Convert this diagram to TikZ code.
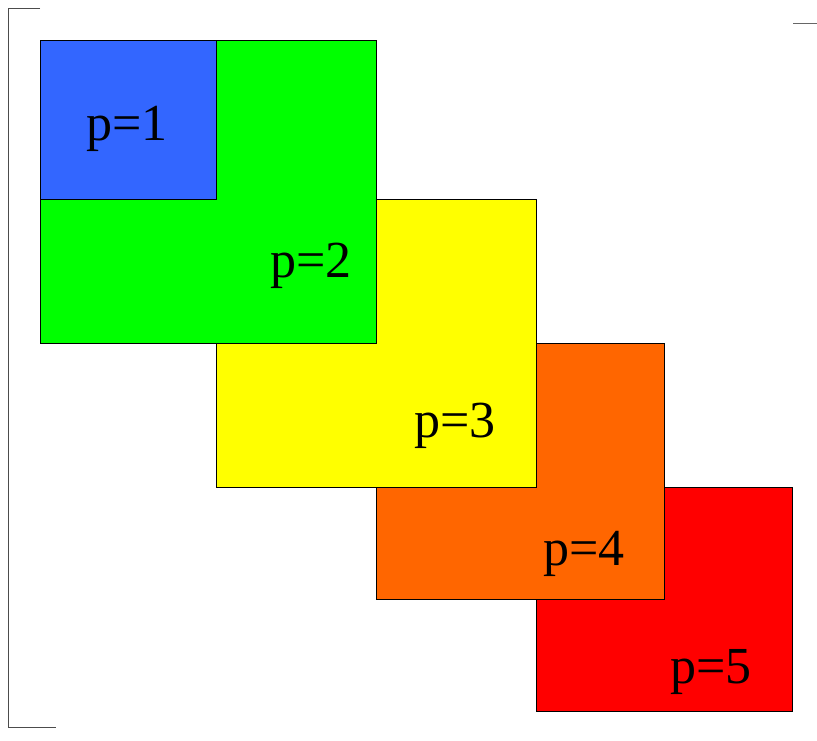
\documentclass[tikz,border=0pt]{standalone}
\usepackage{fontspec}
\setmainfont{Liberation Serif}
\definecolor{pblue}{HTML}{3366FF}
\definecolor{pgreen}{HTML}{00FF00}
\definecolor{pyellow}{HTML}{FFFF00}
\definecolor{porange}{HTML}{FF6600}
\definecolor{pred}{HTML}{FF0000}
\begin{document}
\begin{tikzpicture}[x=1pt,y=-1pt,line width=0.8pt,
  block/.style={draw=black,line width=0.7pt},
  plabel/.style={anchor=base,inner sep=0pt,font=\fontsize{52}{60}\selectfont}]
\useasboundingbox (0,0) rectangle (817,740);
% ---------- bracket ----------
\draw[line width=1pt,black!70] (40,8) -- (8,8) -- (8,727) -- (56,727);
\draw[line width=1pt,black!60] (793,23) -- (817,23);
% ---------- blocks, last one first ----------
\draw[block,fill=pred] (536,487) rectangle (792,711);
\draw[block,fill=porange] (376,343) rectangle (664,599);
\draw[block,fill=pyellow] (216,199) rectangle (536,487);
\draw[block,fill=pgreen] (40,40) rectangle (376,343);
\draw[block,fill=pblue] (40,40) rectangle (216,199);
% ---------- labels ----------
\node[plabel] (p1) at (127,140) {p=1};
\node[plabel] (p2) at (311,277) {p=2};
\node[plabel] (p3) at (455,437) {p=3};
\node[plabel] (p4) at (584,565) {p=4};
\node[plabel] (p5) at (711,683) {p=5};
\end{tikzpicture}
\end{document}
